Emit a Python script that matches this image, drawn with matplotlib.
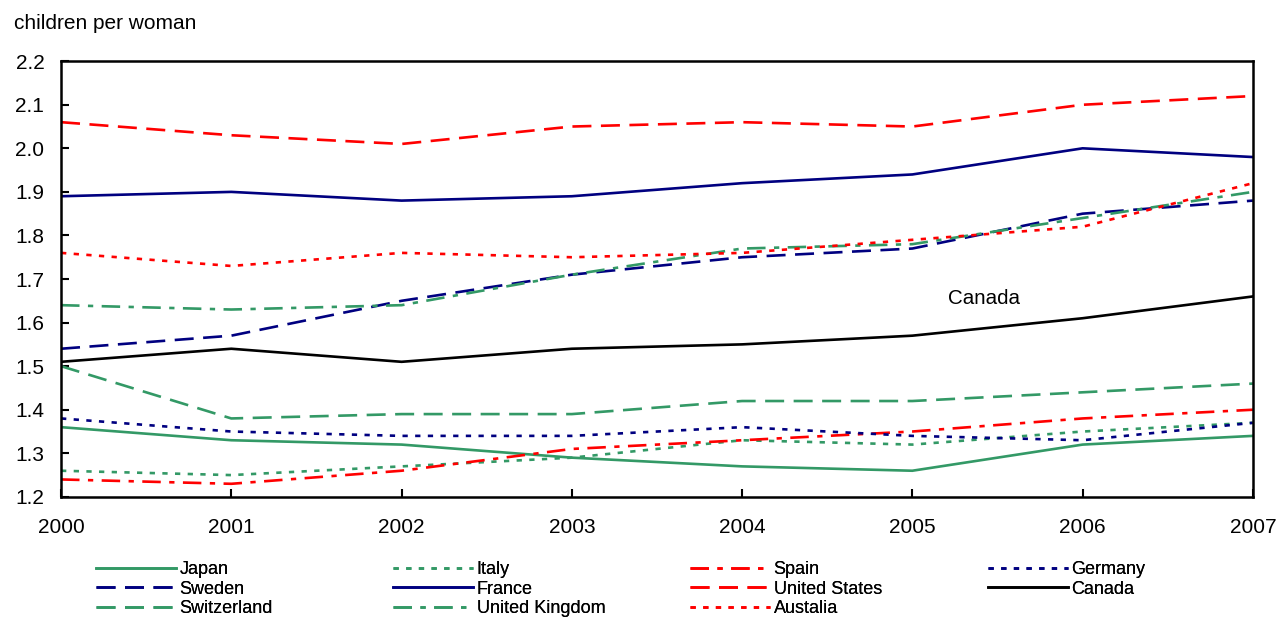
import matplotlib
matplotlib.use("Agg")
import matplotlib.pyplot as plt

plt.rcParams['font.family'] = ['Liberation Sans', 'DejaVu Sans']

# datos
years = [2000, 2001, 2002, 2003, 2004, 2005, 2006, 2007]
japan = [1.36, 1.33, 1.32, 1.29, 1.27, 1.26, 1.32, 1.34]
italy = [1.26, 1.25, 1.27, 1.29, 1.33, 1.32, 1.35, 1.37]
spain = [1.24, 1.23, 1.26, 1.31, 1.33, 1.35, 1.38, 1.40]
germany = [1.38, 1.35, 1.34, 1.34, 1.36, 1.34, 1.33, 1.37]
sweden = [1.54, 1.57, 1.65, 1.71, 1.75, 1.77, 1.85, 1.88]
france = [1.89, 1.90, 1.88, 1.89, 1.92, 1.94, 2.00, 1.98]
united_states = [2.06, 2.03, 2.01, 2.05, 2.06, 2.05, 2.10, 2.12]
canada = [1.51, 1.54, 1.51, 1.54, 1.55, 1.57, 1.61, 1.66]
switzerland = [1.50, 1.38, 1.39, 1.39, 1.42, 1.42, 1.44, 1.46]
united_kingdom = [1.64, 1.63, 1.64, 1.71, 1.77, 1.78, 1.84, 1.90]
australia = [1.76, 1.73, 1.76, 1.75, 1.76, 1.79, 1.82, 1.92]

green = '#339966'
navy = '#000080'
red = '#ff0000'

dash = (0, (7.2, 3.6))
dot = (0, (2, 2.8))
dashdot = (0, (7, 3.2, 2, 3.2))

series = [
    ('Japan', japan, green, '-'),
    ('Italy', italy, green, dot),
    ('Spain', spain, red, dashdot),
    ('Germany', germany, navy, dot),
    ('Sweden', sweden, navy, dash),
    ('France', france, navy, '-'),
    ('United States', united_states, red, dash),
    ('Canada', canada, 'black', '-'),
    ('Switzerland', switzerland, green, dash),
    ('United Kingdom', united_kingdom, green, dashdot),
    ('Austalia', australia, red, dot),
]

fig = plt.figure(figsize=(12.77, 6.18), dpi=100)
ax = fig.add_axes([0.0478, 0.196, 0.9333, 0.705])

handles = {}
for name, vals, color, ls in series:
    line, = ax.plot(years, vals, color=color, linestyle=ls, linewidth=1.9, label=name)
    handles[name] = line

ax.set_xlim(2000, 2007)
ax.set_ylim(1.2, 2.2)
ax.set_xticks(years)
ax.set_yticks([1.2, 1.3, 1.4, 1.5, 1.6, 1.7, 1.8, 1.9, 2.0, 2.1, 2.2])
ax.set_yticklabels(['1.2', '1.3', '1.4', '1.5', '1.6', '1.7', '1.8', '1.9', '2.0', '2.1', '2.2'])
ax.tick_params(axis='both', direction='in', length=6, width=1.5, labelsize=15)
ax.tick_params(axis='x', pad=15)
ax.tick_params(axis='y', pad=12)
for s in ax.spines.values():
    s.set_linewidth(1.8)

ax.text(2005.42, 1.655, 'Canada', fontsize=14.8, ha='center', va='center')
fig.text(0.011, 0.962, 'children per woman', fontsize=15, ha='left', va='center')

# una leyenda por columna, como en el original
columnas = [
    (['Japan', 'Sweden', 'Switzerland'], 0.0752),
    (['Italy', 'France', 'United Kingdom'], 0.3078),
    (['Spain', 'United States', 'Austalia'], 0.5403),
    (['Germany', 'Canada'], 0.7737),
]
for nombres, x0 in columnas:
    leg = fig.legend([handles[n] for n in nombres], nombres, loc='upper left',
                     bbox_to_anchor=(x0, 0.092), frameon=False, fontsize=13,
                     handlelength=4.45, handletextpad=0.18,
                     labelspacing=0.145, borderpad=0, borderaxespad=0)
    fig.add_artist(leg)

fig.savefig('out.png', dpi=100)
